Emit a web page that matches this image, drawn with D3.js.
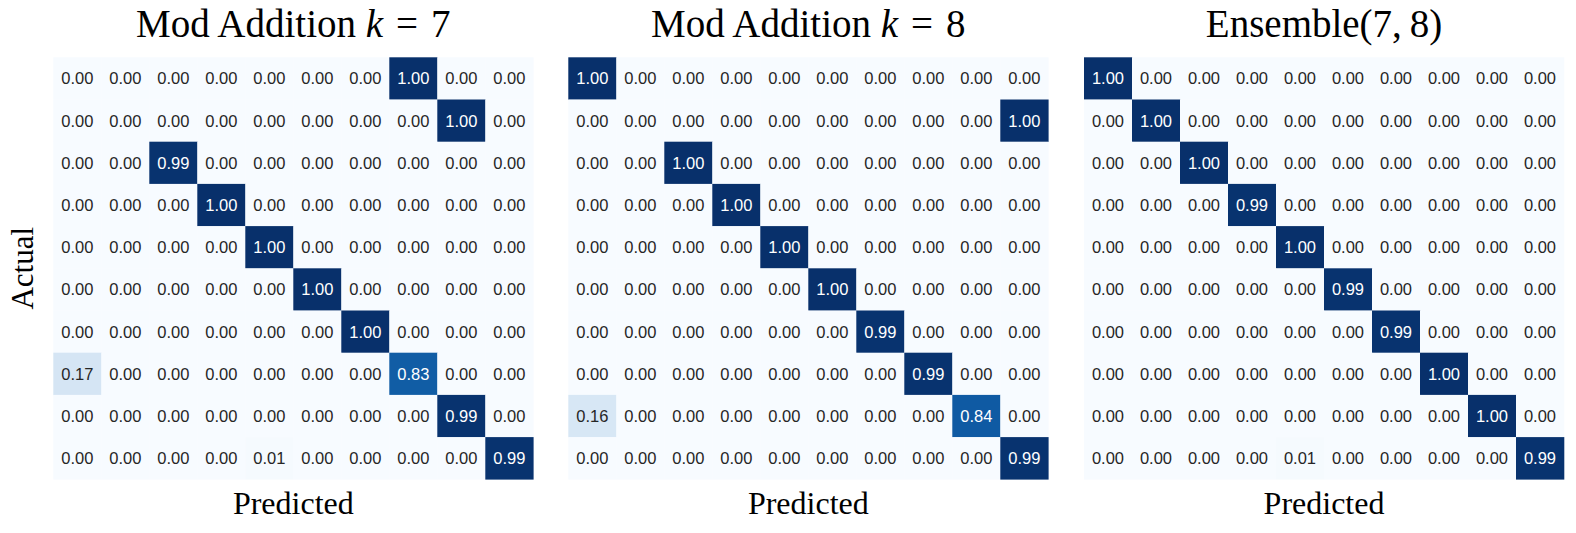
<!DOCTYPE html>
<html>
<head>
<meta charset="utf-8">
<script src="https://cdn.jsdelivr.net/npm/d3@7"></script>
<style>
  body { margin: 0; background: #fff; }
  svg { display: block; }
</style>
</head>
<body>
<svg id="chart"></svg>
<script>
// class labels (rows = actual, cols = predicted)
var classes = [0, 1, 2, 3, 4, 5, 6, 7, 8, 9];

var modAdd7 = [
  [0.00, 0.00, 0.00, 0.00, 0.00, 0.00, 0.00, 1.00, 0.00, 0.00],
  [0.00, 0.00, 0.00, 0.00, 0.00, 0.00, 0.00, 0.00, 1.00, 0.00],
  [0.00, 0.00, 0.99, 0.00, 0.00, 0.00, 0.00, 0.00, 0.00, 0.00],
  [0.00, 0.00, 0.00, 1.00, 0.00, 0.00, 0.00, 0.00, 0.00, 0.00],
  [0.00, 0.00, 0.00, 0.00, 1.00, 0.00, 0.00, 0.00, 0.00, 0.00],
  [0.00, 0.00, 0.00, 0.00, 0.00, 1.00, 0.00, 0.00, 0.00, 0.00],
  [0.00, 0.00, 0.00, 0.00, 0.00, 0.00, 1.00, 0.00, 0.00, 0.00],
  [0.17, 0.00, 0.00, 0.00, 0.00, 0.00, 0.00, 0.83, 0.00, 0.00],
  [0.00, 0.00, 0.00, 0.00, 0.00, 0.00, 0.00, 0.00, 0.99, 0.00],
  [0.00, 0.00, 0.00, 0.00, 0.01, 0.00, 0.00, 0.00, 0.00, 0.99]
];

var modAdd8 = [
  [1.00, 0.00, 0.00, 0.00, 0.00, 0.00, 0.00, 0.00, 0.00, 0.00],
  [0.00, 0.00, 0.00, 0.00, 0.00, 0.00, 0.00, 0.00, 0.00, 1.00],
  [0.00, 0.00, 1.00, 0.00, 0.00, 0.00, 0.00, 0.00, 0.00, 0.00],
  [0.00, 0.00, 0.00, 1.00, 0.00, 0.00, 0.00, 0.00, 0.00, 0.00],
  [0.00, 0.00, 0.00, 0.00, 1.00, 0.00, 0.00, 0.00, 0.00, 0.00],
  [0.00, 0.00, 0.00, 0.00, 0.00, 1.00, 0.00, 0.00, 0.00, 0.00],
  [0.00, 0.00, 0.00, 0.00, 0.00, 0.00, 0.99, 0.00, 0.00, 0.00],
  [0.00, 0.00, 0.00, 0.00, 0.00, 0.00, 0.00, 0.99, 0.00, 0.00],
  [0.16, 0.00, 0.00, 0.00, 0.00, 0.00, 0.00, 0.00, 0.84, 0.00],
  [0.00, 0.00, 0.00, 0.00, 0.00, 0.00, 0.00, 0.00, 0.00, 0.99]
];

var ensemble78 = [
  [1.00, 0.00, 0.00, 0.00, 0.00, 0.00, 0.00, 0.00, 0.00, 0.00],
  [0.00, 1.00, 0.00, 0.00, 0.00, 0.00, 0.00, 0.00, 0.00, 0.00],
  [0.00, 0.00, 1.00, 0.00, 0.00, 0.00, 0.00, 0.00, 0.00, 0.00],
  [0.00, 0.00, 0.00, 0.99, 0.00, 0.00, 0.00, 0.00, 0.00, 0.00],
  [0.00, 0.00, 0.00, 0.00, 1.00, 0.00, 0.00, 0.00, 0.00, 0.00],
  [0.00, 0.00, 0.00, 0.00, 0.00, 0.99, 0.00, 0.00, 0.00, 0.00],
  [0.00, 0.00, 0.00, 0.00, 0.00, 0.00, 0.99, 0.00, 0.00, 0.00],
  [0.00, 0.00, 0.00, 0.00, 0.00, 0.00, 0.00, 1.00, 0.00, 0.00],
  [0.00, 0.00, 0.00, 0.00, 0.00, 0.00, 0.00, 0.00, 1.00, 0.00],
  [0.00, 0.00, 0.00, 0.00, 0.01, 0.00, 0.00, 0.00, 0.00, 0.99]
];

// title pieces: [text, italic?]
var titles = [
  [["Mod Addition ", false], ["k", true], ["\u2004=\u20047", false]],
  [["Mod Addition ", false], ["k", true], ["\u2004=\u20048", false]],
  [["Ensemble(7,\u20098)", false]]
];
var matrices = [modAdd7, modAdd8, ensemble78];

var W = 1576, H = 533;
var svg = d3.select("#chart").attr("width", W).attr("height", H);

var panelLeft = [53.3, 568.3, 1084],
    panelW = 480,
    topY = 57.3,
    panelH = 422;

// matplotlib "Blues" (linear segments)
var blues = d3.scaleLinear()
  .domain(d3.range(9).map(function (i) { return i / 8; }))
  .range(["#f7fbff", "#deebf7", "#c6dbef", "#9ecae1", "#6baed6", "#4292c6", "#2171b5", "#08519c", "#08306b"])
  .interpolate(d3.interpolateRgb)
  .clamp(true);

function lum(c) {
  var rgb = d3.rgb(c);
  var ch = [rgb.r, rgb.g, rgb.b].map(function (v) {
    v = v / 255;
    return v <= 0.03928 ? v / 12.92 : Math.pow((v + 0.055) / 1.055, 2.4);
  });
  return 0.2126 * ch[0] + 0.7152 * ch[1] + 0.0722 * ch[2];
}

matrices.forEach(function (mat, p) {
  var x = d3.scaleBand().domain(classes).range([panelLeft[p], panelLeft[p] + panelW]);
  var y = d3.scaleBand().domain(classes).range([topY, topY + panelH]);

  var cells = [];
  mat.forEach(function (row, i) {
    row.forEach(function (v, j) { cells.push({ r: classes[i], c: classes[j], v: v }); });
  });

  var g = svg.append("g").attr("class", "panel" + p);

  g.selectAll("rect")
    .data(cells)
    .join("rect")
    .attr("x", function (d) { return x(d.c); })
    .attr("y", function (d) { return y(d.r); })
    .attr("width", x.bandwidth() + 0.3)
    .attr("height", y.bandwidth() + 0.3)
    .attr("fill", function (d) { return blues(d.v); });

  g.selectAll("text.annot")
    .data(cells)
    .join("text")
    .attr("class", "annot")
    .attr("x", function (d) { return x(d.c) + x.bandwidth() / 2; })
    .attr("y", function (d) { return y(d.r) + y.bandwidth() / 2; })
    .attr("dy", "0.36em")
    .attr("text-anchor", "middle")
    .style("font-family", "'Liberation Sans', Arial, Helvetica, sans-serif")
    .style("font-size", "16.5px")
    .attr("fill", function (d) { return lum(blues(d.v)) > 0.408 ? "#262626" : "#ffffff"; })
    .text(function (d) { return d.v.toFixed(2); });

  // title
  var t = g.append("text")
    .attr("x", panelLeft[p] + panelW / 2)
    .attr("y", 37)
    .attr("text-anchor", "middle")
    .style("font-family", "'Liberation Serif', 'Times New Roman', serif")
    .style("font-size", "39px")
    .attr("fill", "#000");
  t.selectAll("tspan")
    .data(titles[p])
    .join("tspan")
    .style("font-style", function (d) { return d[1] ? "italic" : "normal"; })
    .text(function (d) { return d[0]; });

  // x label
  g.append("text")
    .attr("x", panelLeft[p] + panelW / 2)
    .attr("y", 514)
    .attr("text-anchor", "middle")
    .style("font-family", "'Liberation Serif', 'Times New Roman', serif")
    .style("font-size", "32px")
    .text("Predicted");

  if (p === 0) {
    g.append("text")
      .attr("transform", "translate(33," + (topY + panelH / 2) + ") rotate(-90)")
      .attr("text-anchor", "middle")
      .style("font-family", "'Liberation Serif', 'Times New Roman', serif")
      .style("font-size", "31px")
      .text("Actual");
  }
});
</script>
</body>
</html>
